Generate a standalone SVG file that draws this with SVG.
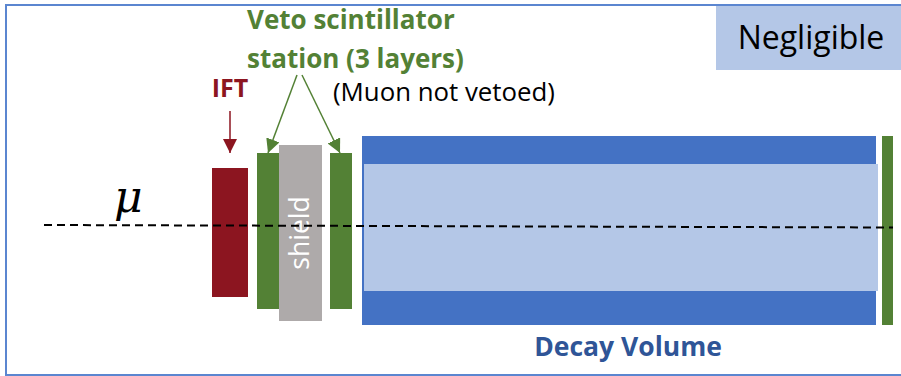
<svg xmlns="http://www.w3.org/2000/svg" width="901" height="376" viewBox="0 0 901 376">
<defs>
<style>
.t{font-family:"Open Sans","Noto Sans","Liberation Sans",sans-serif}
.g{fill:#538135}
.b{font-weight:bold}
</style>
<marker id="ag" viewBox="0 0 10 10" refX="10" refY="5" markerWidth="14" markerHeight="14" markerUnits="userSpaceOnUse" orient="auto"><path d="M0,0 L10,5 L0,10 z" fill="#538135"/></marker>
<marker id="ar" viewBox="0 0 10 10" refX="10" refY="5" markerWidth="16" markerHeight="14" markerUnits="userSpaceOnUse" orient="auto"><path d="M0,0 L10,5 L0,10 z" fill="#8c1520"/></marker>
</defs>
<rect width="901" height="376" fill="#fff"/>
<g id="frame">
<rect x="6" y="5" width="900" height="370" fill="none" stroke="#5b86d0" stroke-width="2"/>
</g>
<g id="negligible">
<rect x="716" y="6" width="185" height="64" fill="#b4c7e7"/>
<text class="t" x="811" y="49" font-size="32" text-anchor="middle" fill="#000">Negligible</text>
</g>
<g id="decay-volume">
<rect x="362" y="136" width="514" height="189" fill="#4472c4"/>
<rect x="364" y="164" width="514" height="127" fill="#b4c7e7"/>
<text class="t b" x="628" y="356" font-size="26.5" text-anchor="middle" fill="#2f5597">Decay Volume</text>
</g>
<g id="ift">
<rect x="212" y="168" width="36" height="129" fill="#8c1520"/>
<text class="t b" x="230" y="97" font-size="25" text-anchor="middle" fill="#8c1520">IFT</text>
</g>
<g id="veto1"><rect x="257" y="153" width="22" height="156" class="g"/></g>
<g id="shield">
<rect x="279" y="145" width="43" height="176" fill="#aeaaaa"/>
<text class="t" x="0" y="0" font-size="26.5" fill="#fff" text-anchor="middle" transform="translate(309,233) rotate(-90)">shield</text>
</g>
<g id="veto2"><rect x="330" y="153" width="22" height="156" class="g"/></g>
<g id="veto3"><rect x="882" y="136" width="11" height="189" class="g"/></g>
<g id="labels">
<text class="t b" x="247" y="29" font-size="26" fill="#538135">Veto scintillator</text>
<text class="t b" x="247" y="68" font-size="26" fill="#538135">station (3 layers)</text>
<text class="t" x="333" y="101" font-size="25.8" fill="#000">(Muon not vetoed)</text>
<text x="114" y="212" font-size="44" font-style="italic" font-family="'DejaVu Serif','Liberation Serif',serif" fill="#000">μ</text>
</g>
<g id="connectors">
<line x1="44" y1="225" x2="893" y2="227.5" stroke="#000" stroke-width="2" stroke-dasharray="8,5"/>
<line x1="230" y1="111" x2="230" y2="153" stroke="#8c1520" stroke-width="1.5" marker-end="url(#ar)"/>
<line x1="297" y1="75" x2="268" y2="153" stroke="#538135" stroke-width="1.5" marker-end="url(#ag)"/>
<line x1="302" y1="75" x2="340" y2="153" stroke="#538135" stroke-width="1.5" marker-end="url(#ag)"/>
</g>
</svg>
